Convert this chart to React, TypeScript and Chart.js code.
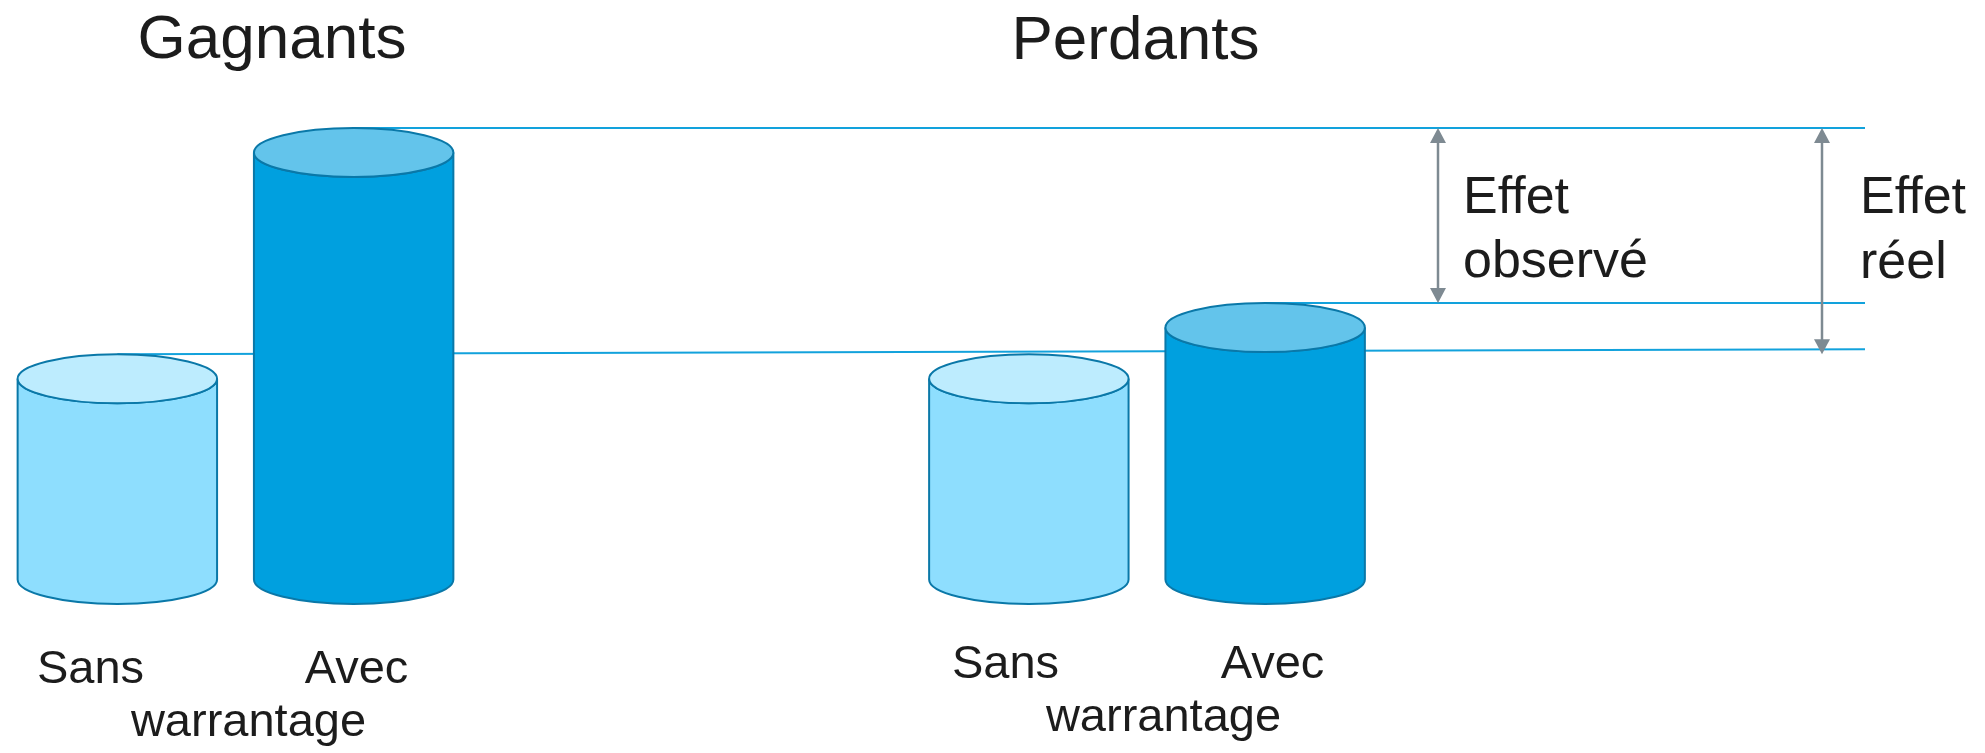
import React, { useEffect, useRef } from "react";
import { Chart, registerables } from "chart.js";

Chart.register(...registerables);

// ---- data ----
const groups = ["Gagnants", "Perdants"];
const seriesNames = ["Sans", "Avec"];
const sansValues = [47, 47];
const avecValues = [100, 59];
const axisWord = "warrantage";
const observedLabel = ["Effet", "observé"];
const realLabel = ["Effet", "réel"];

// ---- styles ----
const LIGHT_BODY = "#8EDEFE";
const LIGHT_TOP = "#BDECFE";
const DARK_BODY = "#00A0DF";
const DARK_TOP = "#63C4EB";
const OUTLINE = "#0A78A8";
const REF_LINE = "#12A2DC";
const ARROW = "#7E8A92";
const TEXT = "#1c1c1c";
const FONT = '"Liberation Sans", Arial, Helvetica, sans-serif';
const RY = 24.5;

function drawCylinder(ctx: CanvasRenderingContext2D, x: number, yTop: number, yBase: number, w: number, body: string, top: string) {
  const rx = w / 2;
  ctx.save();
  ctx.lineWidth = 2;
  ctx.strokeStyle = OUTLINE;
  ctx.fillStyle = body;
  ctx.beginPath();
  ctx.moveTo(x - rx, yTop);
  ctx.lineTo(x - rx, yBase);
  ctx.ellipse(x, yBase, rx, RY, 0, Math.PI, 0, true);
  ctx.lineTo(x + rx, yTop);
  ctx.ellipse(x, yTop, rx, RY, 0, 0, Math.PI, false);
  ctx.closePath();
  ctx.fill();
  ctx.stroke();
  ctx.beginPath();
  ctx.ellipse(x, yTop, rx, RY, 0, 0, Math.PI * 2);
  ctx.fillStyle = top;
  ctx.fill();
  ctx.stroke();
  ctx.restore();
}

function drawArrow(ctx: CanvasRenderingContext2D, x: number, y1: number, y2: number) {
  const hw = 8;
  const hl = 15;
  ctx.save();
  ctx.strokeStyle = ARROW;
  ctx.fillStyle = ARROW;
  ctx.lineWidth = 2.5;
  ctx.beginPath();
  ctx.moveTo(x, y1 + hl - 1);
  ctx.lineTo(x, y2 - hl + 1);
  ctx.stroke();
  ctx.beginPath();
  ctx.moveTo(x, y1);
  ctx.lineTo(x - hw, y1 + hl);
  ctx.lineTo(x + hw, y1 + hl);
  ctx.closePath();
  ctx.fill();
  ctx.beginPath();
  ctx.moveTo(x, y2);
  ctx.lineTo(x - hw, y2 - hl);
  ctx.lineTo(x + hw, y2 - hl);
  ctx.closePath();
  ctx.fill();
  ctx.restore();
}

const cylinderPlugin = {
  id: "cylinders",
  beforeDatasetsDraw(chart: any) {
    const ctx: CanvasRenderingContext2D = chart.ctx;
    const sG = chart.getDatasetMeta(0).data[0];
    const aG = chart.getDatasetMeta(1).data[0];
    const aP = chart.getDatasetMeta(1).data[1];
    const right = 1865;
    ctx.save();
    ctx.strokeStyle = REF_LINE;
    ctx.lineWidth = 2;
    const seg = (x1: number, y1: number, x2: number, y2: number) => {
      ctx.beginPath();
      ctx.moveTo(x1, y1);
      ctx.lineTo(x2, y2);
      ctx.stroke();
    };
    seg(sG.x, sG.y - RY, right, sG.y - RY - 5);
    seg(aG.x, aG.y - RY, right, aG.y - RY);
    seg(aP.x, aP.y - RY, right, aP.y - RY);
    ctx.restore();
  },
  afterDatasetsDraw(chart: any) {
    const ctx: CanvasRenderingContext2D = chart.ctx;
    const sansMeta = chart.getDatasetMeta(0);
    const avecMeta = chart.getDatasetMeta(1);
    for (let i = 0; i < groups.length; i++) {
      const s = sansMeta.data[i];
      const a = avecMeta.data[i];
      drawCylinder(ctx, s.x, s.y, s.base, s.width, LIGHT_BODY, LIGHT_TOP);
      drawCylinder(ctx, a.x, a.y, a.base, a.width, DARK_BODY, DARK_TOP);
    }
    const sG = sansMeta.data[0];
    const aG = avecMeta.data[0];
    const aP = avecMeta.data[1];
    drawArrow(ctx, 1438, aG.y - RY, aP.y - RY);
    drawArrow(ctx, 1822, aG.y - RY, sG.y - RY);

    ctx.save();
    ctx.fillStyle = TEXT;
    ctx.textBaseline = "alphabetic";
    // group titles
    ctx.font = `62px ${FONT}`;
    ctx.textAlign = "center";
    ctx.fillText(groups[0], 272, 58);
    ctx.fillText(groups[1], 1135.5, 59);
    // effect labels
    ctx.font = `52px ${FONT}`;
    ctx.textAlign = "left";
    ctx.fillText(observedLabel[0], 1463, 213);
    ctx.fillText(observedLabel[1], 1463, 277);
    ctx.fillText(realLabel[0], 1860, 213);
    ctx.fillText(realLabel[1], 1860, 278);
    // category labels
    ctx.font = `47px ${FONT}`;
    ctx.textAlign = "center";
    ctx.fillText(seriesNames[0], 90.5, 683);
    ctx.fillText(seriesNames[1], 356.5, 683);
    ctx.fillText(axisWord, 248.5, 736);
    ctx.fillText(seriesNames[0], 1005.5, 678);
    ctx.fillText(seriesNames[1], 1272.5, 678);
    ctx.fillText(axisWord, 1163.5, 731);
    ctx.restore();
  },
};

export default function App() {
  const ref = useRef<HTMLCanvasElement | null>(null);
  useEffect(() => {
    document.body.style.margin = "0";
    document.body.style.background = "#ffffff";
    if (!ref.current) return;
    const chart = new Chart(ref.current, {
      type: "bar",
      data: {
        labels: groups,
        datasets: [
          { label: seriesNames[0], data: sansValues, backgroundColor: "rgba(0,0,0,0)", borderWidth: 0 },
          { label: seriesNames[1], data: avecValues, backgroundColor: "rgba(0,0,0,0)", borderWidth: 0 },
        ],
      },
      options: {
        responsive: false,
        animation: false,
        events: [],
        devicePixelRatio: 1,
        layout: { padding: { left: 235.5, right: 838, top: 152.5, bottom: 173.5 } },
        datasets: { bar: { categoryPercentage: 0.5185, barPercentage: 0.844 } },
        scales: {
          x: { type: "category", offset: false, display: false, grid: { display: false } },
          y: { type: "linear", min: 0, max: 100, display: false, grid: { display: false } },
        },
        plugins: { legend: { display: false }, tooltip: { enabled: false }, title: { display: false } },
      },
      plugins: [cylinderPlugin],
    } as any);
    return () => chart.destroy();
  }, []);
  return (
    <div style={{ width: 1985, height: 753 }}>
      <canvas ref={ref} width={1985} height={753} style={{ display: "block" }} />
    </div>
  );
}
